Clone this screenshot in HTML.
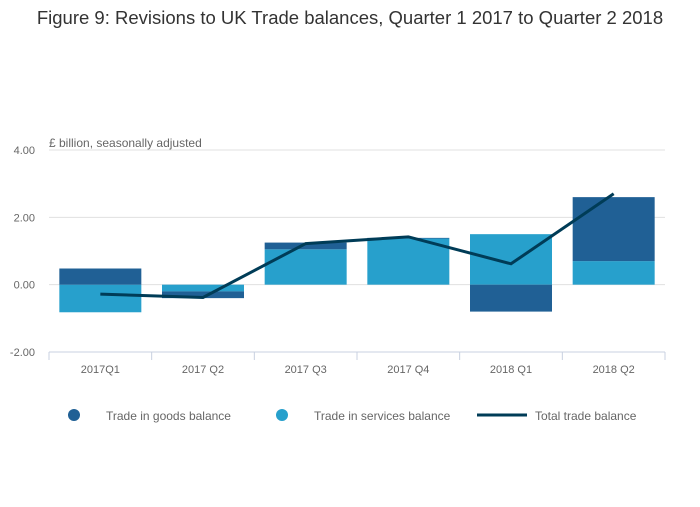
<!DOCTYPE html>
<html><head><meta charset="utf-8"><style>
body{margin:0;background:#fff;font-family:"Liberation Sans",sans-serif}
</style></head><body>
<svg id="c" width="700" height="502" xmlns="http://www.w3.org/2000/svg">
<text x="350" y="24" text-anchor="middle" font-size="18.5" fill="#333">Figure 9: Revisions to UK Trade balances, Quarter 1 2017 to Quarter 2 2018</text>
<text x="49" y="147" font-size="12" fill="#666">£ billion, seasonally adjusted</text>
<g id="grid"></g><g id="bars"></g><g id="line"></g><g id="xax"></g>
<g>
<circle cx="74" cy="415" r="6" fill="#206095"/>
<text x="106" y="420" font-size="12" fill="#666">Trade in goods balance</text>
<circle cx="282" cy="415" r="6" fill="#27a0cc"/>
<text x="314" y="420" font-size="12" fill="#666">Trade in services balance</text>
<line x1="477" y1="415" x2="527" y2="415" stroke="#003c57" stroke-width="3"/>
<text x="535" y="420" font-size="12" fill="#666">Total trade balance</text>
</g>
</svg>
<script>
const categories=["2017Q1","2017 Q2","2017 Q3","2017 Q4","2018 Q1","2018 Q2"];
const goods=[0.48,-0.2,0.2,0.02,-0.8,1.9];
const services=[-0.82,-0.2,1.05,1.37,1.5,0.7];
const total=[-0.28,-0.38,1.22,1.42,0.62,2.7];
const yTicks=[-2,0,2,4];
const NS="http://www.w3.org/2000/svg";
const L=49,R=665,T=150,B=352,ymin=-2,ymax=4;
const y=v=>B-(v-ymin)/(ymax-ymin)*(B-T);
const bw=(R-L)/categories.length;
const xc=i=>L+bw*(i+0.5);
function mk(t,a,p){const e=document.createElementNS(NS,t);for(const k in a)e.setAttribute(k,a[k]);p.appendChild(e);return e;}
const g=document.getElementById('grid');
yTicks.forEach(t=>{
 const ln=mk('line',{x1:L,x2:R,y1:y(t),y2:y(t),stroke:'#e0e0e0'},g);
 
 
 const tx=mk('text',{x:35,y:y(t)+4,'text-anchor':'end','font-size':11,fill:'#666'},g);
 tx.textContent=t.toFixed(2);
 
 
});
const bg=document.getElementById('bars');
categories.forEach((c,i)=>{
 const x0=xc(i)-41;
 const s=services[i],gd=goods[i];
 const sr=mk('rect',{x:x0,width:82,y:Math.min(y(0),y(s)),height:Math.abs(y(s)-y(0)),fill:'#27a0cc'},bg);
 
 
 const base=(Math.sign(gd)===Math.sign(s))?s:0;
 const gr=mk('rect',{x:x0,width:82,y:Math.min(y(base),y(base+gd)),height:Math.abs(y(base+gd)-y(base)),fill:'#206095'},bg);
 
 
});
const xa=document.getElementById('xax');
const ax=mk('line',{x1:L,x2:R,y1:B,y2:B,stroke:'#c8d0e0'},xa);


categories.forEach((c,i)=>{
 const tk=mk('line',{x1:L+bw*i,x2:L+bw*i,y1:B,y2:B+8,stroke:'#c8d0e0'},xa);
 
 
 const tx=mk('text',{x:xc(i),y:B+21,'text-anchor':'middle','font-size':11,fill:'#666'},xa);
 tx.textContent=c;
 
 
});
const tk=mk('line',{x1:R,x2:R,y1:B,y2:B+8,stroke:'#c8d0e0'},xa);


const pl=mk('polyline',{points:total.map((v,i)=>xc(i)+','+y(v)).join(' '),fill:'none',stroke:'#003c57','stroke-width':3},document.getElementById('line'));


</script>
</body></html>
